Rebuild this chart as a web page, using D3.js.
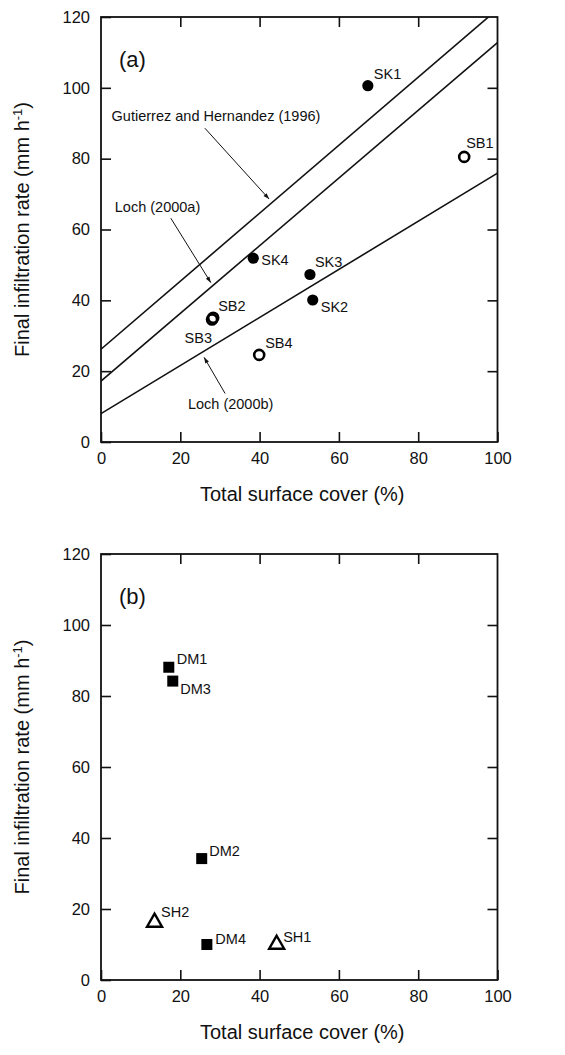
<!DOCTYPE html>
<html>
<head>
<meta charset="utf-8">
<script src="https://cdn.jsdelivr.net/npm/d3@7"></script>
<style>
  html, body { margin: 0; padding: 0; background: #fff; }
  svg { display: block; font-family: "Liberation Sans", Arial, Helvetica, sans-serif; }
</style>
</head>
<body>
<svg id="chart" width="565" height="1055"></svg>
<script>
// ---------- data ----------
const xTicks = [0, 20, 40, 60, 80, 100];
const yTicks = [0, 20, 40, 60, 80, 100, 120];
const xTitle = "Total surface cover (%)";

// panel (a)
const aNames = ["SK1", "SK2", "SK3", "SK4", "SB1", "SB2", "SB3", "SB4"];
const aCover = [67.3, 53.4, 52.7, 38.4, 91.6, 28.3, 28.0, 39.9];
const aRate  = [100.6, 40.1, 47.3, 51.9, 80.5, 35.1, 34.6, 24.6];

// fitted relations in panel (a): rate at cover = 0 and cover = 100
const lineNames  = ["Gutierrez and Hernandez (1996)", "Loch (2000a)", "Loch (2000b)"];
const lineStart  = [26.2, 17.2, 8.0];
const lineEnd    = [122.2, 112.8, 75.9];

// panel (b)
const bNames = ["DM1", "DM3", "DM2", "DM4", "SH2", "SH1"];
const bCover = [17.1, 18.1, 25.4, 26.7, 13.5, 44.3];
const bRate  = [88.1, 84.2, 34.2, 10.0, 16.7, 10.5];

// ---------- layout ----------
const svg = d3.select("#chart");
const X0 = 101, X1 = 497.5;
const panels = [
  { id: "a", top: 17, bottom: 442, tag: "(a)" },
  { id: "b", top: 554, bottom: 980, tag: "(b)" }
];
const x = d3.scaleLinear().domain([0, 100]).range([X0, X1]);

svg.append("defs").append("marker")
  .attr("id", "arrow").attr("viewBox", "0 0 10 10")
  .attr("refX", 10).attr("refY", 5)
  .attr("markerWidth", 8).attr("markerHeight", 6)
  .attr("markerUnits", "userSpaceOnUse")
  .attr("orient", "auto")
  .append("path").attr("d", "M0,1.5 L10,5 L0,8.5 Z").attr("fill", "#111");

function drawFrame(p) {
  const y = d3.scaleLinear().domain([0, 120]).range([p.bottom, p.top]);
  const g = svg.append("g");

  const bottomAxis = d3.axisBottom(x).tickValues(xTicks).tickSize(-10).tickSizeOuter(0).tickPadding(10);
  const gb = g.append("g").attr("transform", `translate(0,${p.bottom})`).call(bottomAxis);
  const topAxis = d3.axisTop(x).tickValues(xTicks.slice(1, -1)).tickSize(-10).tickSizeOuter(0).tickFormat("");
  const gt = g.append("g").attr("transform", `translate(0,${p.top})`).call(topAxis);
  const leftAxis = d3.axisLeft(y).tickValues(yTicks).tickSize(-10).tickSizeOuter(0).tickPadding(11);
  const gl = g.append("g").attr("transform", `translate(${X0},0)`).call(leftAxis);
  const rightAxis = d3.axisRight(y).tickValues(yTicks.slice(1, -1)).tickSize(-10).tickSizeOuter(0).tickFormat("");
  const gr = g.append("g").attr("transform", `translate(${X1},0)`).call(rightAxis);

  [gb, gt, gl, gr].forEach(ax => {
    ax.select(".domain").remove();
    ax.selectAll(".tick line").attr("stroke", "#111").attr("stroke-width", 1.6);
    ax.selectAll(".tick text").attr("fill", "#111")
      .style("font-size", "16.5px").style("font-family", "'Liberation Sans', Arial, sans-serif");
  });

  g.append("rect")
    .attr("x", X0).attr("y", p.top)
    .attr("width", X1 - X0).attr("height", p.bottom - p.top)
    .attr("fill", "none").attr("stroke", "#111").attr("stroke-width", 1.8);

  // axis titles
  g.append("text")
    .attr("x", (X0 + X1) / 2 + 3).attr("y", p.bottom + 59)
    .attr("text-anchor", "middle").attr("fill", "#111")
    .style("font-size", "20px").text(xTitle);

  const yt = g.append("text")
    .attr("transform", `translate(29,${(p.top + p.bottom) / 2}) rotate(-90)`)
    .attr("text-anchor", "middle").attr("fill", "#111")
    .style("font-size", "20px");
  yt.append("tspan").text("Final infiltration rate (mm h");
  yt.append("tspan").attr("dy", -7).style("font-size", "13px").text("-1");
  yt.append("tspan").attr("dy", 7).text(")");

  g.append("text")
    .attr("x", X0 + 18).attr("y", p.top + 50)
    .attr("fill", "#111").style("font-size", "22px").text(p.tag);
  return y;
}

function labelText(g, px, py, dx, dy, txt, anchor) {
  g.append("text")
    .attr("x", px + dx).attr("y", py + dy)
    .attr("dy", "0.35em")
    .attr("text-anchor", anchor || "start")
    .attr("fill", "#111").style("font-size", "14.5px").text(txt);
}

// ---------- panel (a) ----------
const ya = drawFrame(panels[0]);
const ga = svg.append("g");
ga.append("clipPath").attr("id", "clipA").append("rect")
  .attr("x", X0).attr("y", panels[0].top)
  .attr("width", X1 - X0).attr("height", panels[0].bottom - panels[0].top);

const lineGen = d3.line().x(d => x(d[0])).y(d => ya(d[1]));
const lg = ga.append("g").attr("clip-path", "url(#clipA)");
lineNames.forEach((n, i) => {
  lg.append("path")
    .datum([[0, lineStart[i]], [100, lineEnd[i]]])
    .attr("d", lineGen)
    .attr("fill", "none").attr("stroke", "#111").attr("stroke-width", 1.6);
});

// annotations (text position, arrow from -> to), in data units
const annText  = [[29.0, 90.6], [14.25, 64.9], [32.7, 9.3]];
const annFrom  = [[26.2, 88.6], [17.6, 63.2], [31.3, 13.7]];
const annTo    = [[42.4, 68.6], [27.7, 45.0], [26.0, 23.9]];
lineNames.forEach((n, i) => {
  ga.append("text")
    .attr("x", x(annText[i][0])).attr("y", ya(annText[i][1]))
    .attr("text-anchor", "middle").attr("fill", "#111")
    .style("font-size", "14.5px").text(n);
  ga.append("line")
    .attr("x1", x(annFrom[i][0])).attr("y1", ya(annFrom[i][1]))
    .attr("x2", x(annTo[i][0])).attr("y2", ya(annTo[i][1]))
    .attr("stroke", "#111").attr("stroke-width", 1)
    .attr("marker-end", "url(#arrow)");
});

const aOffsets = {
  SK1: [6, -12, "start"], SK2: [8, 7, "start"], SK3: [5, -13, "start"], SK4: [8, 2, "start"],
  SB1: [2, -14, "start"], SB2: [5, -12, "start"], SB3: [0, 18, "end"], SB4: [6, -12, "start"]
};
aNames.forEach((n, i) => {
  const px = x(aCover[i]), py = ya(aRate[i]);
  if (n.startsWith("SK")) {
    ga.append("circle").attr("cx", px).attr("cy", py).attr("r", 5.6).attr("fill", "#000");
  } else {
    ga.append("circle").attr("cx", px).attr("cy", py).attr("r", 5)
      .attr("fill", "none").attr("stroke", "#000").attr("stroke-width", 2.6);
  }
  const o = aOffsets[n];
  labelText(ga, px, py, o[0], o[1], n, o[2]);
});

// ---------- panel (b) ----------
const yb = drawFrame(panels[1]);
const gbp = svg.append("g");
const bOffsets = {
  DM1: [8, -8], DM3: [7.5, 7.5], DM2: [7.5, -8], DM4: [8.5, -6], SH2: [6.5, -8.5], SH1: [6.5, -6]
};
bNames.forEach((n, i) => {
  const px = x(bCover[i]), py = yb(bRate[i]);
  if (n.startsWith("DM")) {
    gbp.append("rect").attr("x", px - 5.5).attr("y", py - 5.5)
      .attr("width", 11).attr("height", 11).attr("fill", "#000");
  } else {
    const w = 7.5, h = 12;
    gbp.append("path")
      .attr("d", `M${px},${py - h / 2 - 1} L${px + w},${py + h / 2} L${px - w},${py + h / 2} Z`)
      .attr("fill", "none").attr("stroke", "#000").attr("stroke-width", 2.4)
      .attr("stroke-linejoin", "miter");
  }
  const o = bOffsets[n];
  labelText(gbp, px, py, o[0], o[1], n, "start");
});
</script>
</body>
</html>
